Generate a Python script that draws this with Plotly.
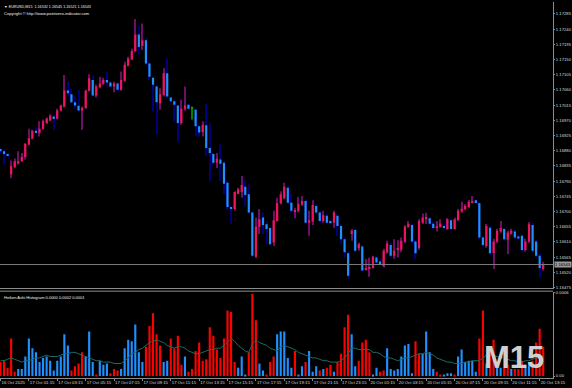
import plotly.graph_objects as go

opens = [1.16885,1.16878,1.16870,1.16810,1.16832,1.16842,1.16849,1.16861,1.16898,1.16916,
1.16939,1.16932,1.16945,1.16962,1.16969,1.16981,1.16975,1.16999,1.17011,1.17058,
1.17047,1.17023,1.17013,1.16999,1.17006,1.17057,1.17089,1.17043,1.17068,1.17078,
1.17089,1.17082,1.17070,1.17079,1.17060,1.17087,1.17132,1.17150,1.17175,1.17224,
1.17190,1.17207,1.17138,1.17096,1.17070,1.17020,1.17045,1.17109,1.17037,1.17026,
1.17014,1.16962,1.17004,1.17016,1.17006,1.17001,1.16952,1.16935,1.16955,1.16888,
1.16870,1.16844,1.16854,1.16844,1.16785,1.16713,1.16707,1.16752,1.16758,1.16773,
1.16751,1.16697,1.16566,1.16655,1.16682,1.16662,1.16651,1.16608,1.16672,1.16724,
1.16739,1.16770,1.16726,1.16700,1.16702,1.16721,1.16731,1.16667,1.16670,1.16716,
1.16697,1.16672,1.16687,1.16672,1.16667,1.16687,1.16657,1.16618,1.16576,1.16633,
1.16645,1.16591,1.16596,1.16527,1.16531,1.16533,1.16564,1.16552,1.16538,1.16579,
1.16601,1.16569,1.16586,1.16587,1.16611,1.16654,1.16660,1.16611,1.16592,1.16667,
1.16677,1.16680,1.16664,1.16652,1.16654,1.16657,1.16648,1.16674,1.16648,1.16675,
1.16700,1.16707,1.16713,1.16726,1.16733,1.16724,1.16623,1.16598,1.16652,1.16576,
1.16611,1.16641,1.16648,1.16616,1.16635,1.16641,1.16626,1.16628,1.16586,1.16611,
1.16660,1.16611,1.16569,1.16530]
highs = [1.16890,1.16883,1.16873,1.16851,1.16857,1.16878,1.16873,1.16903,1.16945,1.16942,
1.16947,1.16967,1.16972,1.16978,1.16988,1.16986,1.17004,1.17016,1.17104,1.17086,
1.17065,1.17040,1.17060,1.17011,1.17060,1.17106,1.17104,1.17075,1.17099,1.17096,
1.17114,1.17086,1.17084,1.17082,1.17114,1.17143,1.17158,1.17182,1.17270,1.17251,
1.17256,1.17212,1.17143,1.17099,1.17075,1.17065,1.17124,1.17153,1.17040,1.17031,
1.17016,1.17031,1.17070,1.17018,1.17011,1.17004,1.16955,1.16967,1.17018,1.16962,
1.16873,1.16873,1.16898,1.16849,1.16790,1.16716,1.16760,1.16770,1.16805,1.16795,
1.16780,1.16700,1.16682,1.16707,1.16697,1.16672,1.16654,1.16702,1.16741,1.16760,
1.16785,1.16775,1.16755,1.16711,1.16743,1.16746,1.16736,1.16702,1.16733,1.16721,
1.16702,1.16702,1.16692,1.16677,1.16702,1.16692,1.16662,1.16623,1.16581,1.16648,
1.16648,1.16608,1.16601,1.16559,1.16563,1.16569,1.16568,1.16557,1.16590,1.16613,
1.16607,1.16618,1.16615,1.16623,1.16660,1.16672,1.16663,1.16616,1.16678,1.16694,
1.16696,1.16684,1.16669,1.16672,1.16677,1.16663,1.16681,1.16678,1.16682,1.16707,
1.16729,1.16722,1.16734,1.16746,1.16735,1.16728,1.16628,1.16663,1.16657,1.16619,
1.16649,1.16672,1.16652,1.16643,1.16649,1.16646,1.16631,1.16631,1.16619,1.16669,
1.16666,1.16616,1.16575,1.16551]
lows = [1.16872,1.16839,1.16861,1.16798,1.16829,1.16839,1.16847,1.16854,1.16896,1.16913,
1.16932,1.16922,1.16942,1.16959,1.16967,1.16942,1.16972,1.16996,1.17008,1.17040,
1.17020,1.17004,1.16996,1.16942,1.17004,1.17055,1.17040,1.17037,1.17065,1.17075,
1.17070,1.17067,1.17053,1.17057,1.17057,1.17084,1.17129,1.17148,1.17171,1.17163,
1.17178,1.17134,1.17089,1.16996,1.16927,1.17001,1.17040,1.17037,1.17020,1.16967,
1.16908,1.16957,1.16998,1.17001,1.16972,1.16922,1.16922,1.16922,1.16864,1.16790,
1.16839,1.16829,1.16790,1.16751,1.16707,1.16662,1.16702,1.16751,1.16741,1.16716,
1.16692,1.16564,1.16562,1.16633,1.16633,1.16603,1.16601,1.16598,1.16670,1.16721,
1.16736,1.16723,1.16697,1.16680,1.16697,1.16716,1.16664,1.16628,1.16660,1.16692,
1.16667,1.16667,1.16664,1.16662,1.16652,1.16628,1.16603,1.16562,1.16501,1.16613,
1.16579,1.16584,1.16522,1.16525,1.16507,1.16531,1.16547,1.16540,1.16534,1.16575,
1.16563,1.16560,1.16564,1.16579,1.16607,1.16652,1.16607,1.16559,1.16587,1.16663,
1.16663,1.16660,1.16646,1.16641,1.16652,1.16649,1.16646,1.16646,1.16646,1.16672,
1.16696,1.16704,1.16710,1.16724,1.16725,1.16619,1.16596,1.16593,1.16572,1.16530,
1.16607,1.16637,1.16613,1.16574,1.16631,1.16619,1.16616,1.16581,1.16581,1.16607,
1.16578,1.16563,1.16504,1.16525]
closes = [1.16878,1.16870,1.16864,1.16834,1.16849,1.16849,1.16861,1.16900,1.16917,1.16939,
1.16935,1.16945,1.16967,1.16975,1.16984,1.16976,1.16999,1.17014,1.17058,1.17050,
1.17023,1.17014,1.16999,1.17006,1.17057,1.17094,1.17043,1.17070,1.17079,1.17089,
1.17082,1.17070,1.17079,1.17060,1.17089,1.17134,1.17153,1.17175,1.17224,1.17187,
1.17207,1.17138,1.17099,1.17075,1.17023,1.17047,1.17109,1.17040,1.17026,1.17016,
1.16962,1.17004,1.17014,1.17004,1.17006,1.16952,1.16934,1.16957,1.16888,1.16873,
1.16844,1.16856,1.16841,1.16782,1.16713,1.16707,1.16758,1.16765,1.16778,1.16749,
1.16697,1.16569,1.16655,1.16677,1.16660,1.16648,1.16603,1.16674,1.16724,1.16751,
1.16773,1.16726,1.16702,1.16704,1.16723,1.16731,1.16667,1.16674,1.16719,1.16697,
1.16672,1.16689,1.16667,1.16665,1.16697,1.16657,1.16618,1.16579,1.16510,1.16643,
1.16584,1.16603,1.16525,1.16532,1.16534,1.16566,1.16549,1.16543,1.16584,1.16605,
1.16569,1.16584,1.16591,1.16613,1.16655,1.16664,1.16611,1.16576,1.16672,1.16682,
1.16684,1.16664,1.16651,1.16657,1.16664,1.16652,1.16677,1.16648,1.16677,1.16702,
1.16708,1.16716,1.16729,1.16731,1.16728,1.16623,1.16601,1.16657,1.16576,1.16611,
1.16643,1.16651,1.16618,1.16638,1.16643,1.16623,1.16620,1.16586,1.16611,1.16662,
1.16584,1.16569,1.16533,1.16543]

hist_values = [0.00010,0.00011,0.00006,0.00027,0.00003,0.00005,0.00005,0.00014,0.00027,0.00020,
0.00017,0.00010,0.00013,0.00014,0.00011,0.00004,0.00011,0.00014,0.00030,0.00022,
0.00004,0.00007,0.00009,0.00017,0.00014,0.00032,0.00010,0.00001,0.00011,0.00008,
0.00009,0.00002,0.00005,0.00004,0.00005,0.00020,0.00026,0.00025,0.00037,0.00017,
0.00010,0.00021,0.00036,0.00045,0.00030,0.00022,0.00010,0.00011,0.00027,0.00020,
0.00029,0.00008,0.00014,0.00003,0.00005,0.00018,0.00024,0.00011,0.00012,0.00035,
0.00029,0.00019,0.00013,0.00027,0.00047,0.00046,0.00010,0.00006,0.00014,0.00001,
0.00017,0.00059,0.00040,0.00009,0.00004,0.00001,0.00010,0.00014,0.00030,0.00032,
0.00032,0.00013,0.00006,0.00018,0.00001,0.00007,0.00010,0.00018,0.00003,0.00007,
0.00004,0.00005,0.00006,0.00008,0.00003,0.00010,0.00016,0.00035,0.00044,0.00030,
0.00007,0.00011,0.00024,0.00026,0.00017,0.00001,0.00006,0.00003,0.00004,0.00020,
0.00005,0.00004,0.00005,0.00014,0.00022,0.00023,0.00002,0.00025,0.00016,0.00016,
0.00032,0.00017,0.00005,0.00003,0.00001,0.00001,0.00002,0.00002,0.00001,0.00014,
0.00019,0.00010,0.00011,0.00011,0.00003,0.00027,0.00047,0.00009,0.00021,0.00026,
0.00010,0.00006,0.00019,0.00008,0.00005,0.00005,0.00005,0.00011,0.00008,0.00010,
0.00011,0.00024,0.00034,0.00021]
hist_dir = ("RRRRRBBBBB" "BBBBBBBBBB" "RRRRBBBRBB" "BRRRBBBBBB" "BRRRRRBBRR"
            "RRBRRRRRRR" "RRRRRRRBBB" "RRRBBRRRBB" "BBBRBBRBBB" "RBRRBRRRRB"
            "BRRRRBBRRB" "BBBBBBBRRB" "BBBRRBBBRB" "BBBBBRRBRR" "BBRRBRRRBB"
            "RRRR")
signal = [0.00011,0.00011,0.00012,0.00013,0.00012,0.00011,0.00010,0.00011,0.00011,0.00012,
0.00013,0.00013,0.00014,0.00015,0.00014,0.00014,0.00014,0.00015,0.00016,0.00016,
0.00017,0.00017,0.00016,0.00015,0.00014,0.00013,0.00012,0.00011,0.00011,0.00010,
0.00010,0.00010,0.00009,0.00009,0.00009,0.00011,0.00013,0.00016,0.00017,0.00019,
0.00020,0.00022,0.00024,0.00025,0.00026,0.00025,0.00024,0.00022,0.00021,0.00020,
0.00021,0.00021,0.00020,0.00018,0.00017,0.00016,0.00016,0.00017,0.00018,0.00019,
0.00019,0.00020,0.00020,0.00022,0.00024,0.00027,0.00025,0.00022,0.00020,0.00018,
0.00017,0.00023,0.00026,0.00024,0.00023,0.00022,0.00020,0.00019,0.00018,0.00021,
0.00022,0.00021,0.00020,0.00019,0.00017,0.00016,0.00015,0.00014,0.00013,0.00013,
0.00012,0.00011,0.00011,0.00010,0.00010,0.00010,0.00011,0.00013,0.00016,0.00020,
0.00020,0.00019,0.00019,0.00019,0.00019,0.00017,0.00017,0.00016,0.00014,0.00013,
0.00013,0.00012,0.00011,0.00012,0.00013,0.00013,0.00014,0.00015,0.00016,0.00016,
0.00017,0.00016,0.00015,0.00013,0.00012,0.00011,0.00010,0.00010,0.00009,0.00009,
0.00009,0.00010,0.00010,0.00011,0.00011,0.00011,0.00013,0.00015,0.00015,0.00015,
0.00014,0.00013,0.00013,0.00012,0.00011,0.00011,0.00010,0.00010,0.00011,0.00011,
0.00012,0.00013,0.00013,0.00014]

tick_idx = [0, 8, 16, 24, 32, 40, 48, 56, 64, 72, 80, 88, 96, 104, 112, 120, 128, 136, 144, 152]
tick_labels = ["16 Oct 2025", "17 Oct 01:15", "17 Oct 03:15", "17 Oct 05:15", "17 Oct 07:15",
               "17 Oct 09:15", "17 Oct 11:15", "17 Oct 13:15", "17 Oct 15:15", "17 Oct 17:15",
               "17 Oct 19:15", "17 Oct 21:15", "17 Oct 23:15", "20 Oct 01:15", "20 Oct 03:15",
               "20 Oct 05:15", "20 Oct 07:15", "20 Oct 09:15", "20 Oct 11:15", "20 Oct 13:15"]
price_ticks = [1.17285, 1.17240, 1.17195, 1.17150, 1.17105, 1.17060, 1.17015, 1.16970, 1.16925,
               1.16880, 1.16835, 1.16790, 1.16745, 1.16700, 1.16655, 1.16610, 1.16565, 1.16520, 1.16475]
hist_ticks = [0.0, 0.0006]
hist_tick_labels = ["0.00", "0.0006"]
last_price = 1.16543
header = "\u25BC EURUSD,M15  1.16532 1.16545 1.16521 1.16543"
copyright_text = "Copyright \u00A9 http://www.pointzero-indicator.com"
hist_title = "Heiken Ashi Histogram 0.0000 0.0002 0.0001"
watermark = "M15"

n = len(opens)
xs = list(range(n))

UP_BODY, DN_BODY, DOJI_BODY = "#F0145E", "#1E90FF", "#00A000"
UP_WICK, DN_WICK, DOJI_WICK = "#6E0E66", "#00007A", "#008000"

body_col, wick_col, body_base, body_len = [], [], [], []
for o, c in zip(opens, closes):
    if c > o:
        body_col.append(UP_BODY); wick_col.append(UP_WICK)
    elif c < o:
        body_col.append(DN_BODY); wick_col.append(DN_WICK)
    else:
        body_col.append(DOJI_BODY); wick_col.append(DOJI_WICK)
    body_base.append(min(o, c))
    body_len.append(max(abs(c - o), 0.000012))

fig = go.Figure()
fig.add_trace(go.Bar(x=xs, y=[h - l for h, l in zip(highs, lows)], base=lows, width=0.3,
                     marker=dict(color=wick_col, line=dict(width=0)), xaxis="x", yaxis="y",
                     hoverinfo="skip"))
fig.add_trace(go.Bar(x=xs, y=body_len, base=body_base, width=0.62,
                     marker=dict(color=body_col, line=dict(width=0)), xaxis="x", yaxis="y",
                     hoverinfo="skip"))
hist_col = ["#FF0000" if d == "R" else "#1E90FF" for d in hist_dir]
fig.add_trace(go.Bar(x=xs, y=hist_values, width=0.6,
                     marker=dict(color=hist_col, line=dict(width=0)), xaxis="x", yaxis="y2",
                     hoverinfo="skip"))
fig.add_trace(go.Scatter(x=xs, y=signal, mode="lines", line=dict(color="#1F6A64", width=1),
                         xaxis="x", yaxis="y2", hoverinfo="skip"))

AX = "#8C8C8C"
TXT = "#DCDCDC"
FONT = "Liberation Sans, Arial, sans-serif"

fig.update_layout(
    width=572, height=388,
    paper_bgcolor="black", plot_bgcolor="black",
    margin=dict(l=0, r=17, t=0, b=10),
    showlegend=False, barmode="overlay",
    font=dict(family=FONT, color=TXT, size=4.5),
    xaxis=dict(range=[-0.14, 155.76], domain=[0, 1], anchor="y2",
               tickvals=tick_idx, ticktext=tick_labels, ticks="outside", ticklen=2,
               tickcolor=AX, showline=True, linecolor=AX, linewidth=1, tickangle=0,
               ticklabelposition="outside right", tickfont=dict(size=4.3, color=TXT),
               showgrid=False, zeroline=False, fixedrange=True),
    yaxis=dict(domain=[0.238, 1], range=[1.16472, 1.17320], side="right", anchor="x",
               tickvals=price_ticks, ticktext=["%.5f" % v for v in price_ticks],
               ticks="outside", ticklen=1, tickcolor=AX, showline=True, linecolor=AX,
               tickfont=dict(size=4.2, color=TXT), showgrid=False, zeroline=False),
    yaxis2=dict(domain=[0, 0.230], range=[-0.0000143, 0.000607], side="right", anchor="x",
                tickvals=hist_ticks, ticktext=hist_tick_labels,
                ticks="outside", ticklen=1, tickcolor=AX, showline=True, linecolor=AX,
                tickfont=dict(size=4.2, color=TXT), showgrid=False, zeroline=False),
)

fig.add_shape(type="line", xref="paper", yref="paper", x0=0, x1=1, y0=0.238, y1=0.238,
              line=dict(color=AX, width=1))
fig.add_shape(type="line", xref="paper", yref="paper", x0=0, x1=1, y0=0.231, y1=0.231,
              line=dict(color=AX, width=1))
fig.add_shape(type="line", xref="paper", yref="y", x0=0, x1=1, y0=last_price, y1=last_price,
              line=dict(color="#7A7A7A", width=1))

fig.add_annotation(text=header, xref="paper", yref="paper", x=0.004, y=0.998,
                   xanchor="left", yanchor="top", showarrow=False,
                   font=dict(size=3.7, color="#F0F0F0", family=FONT))
fig.add_annotation(text=copyright_text, xref="paper", yref="paper", x=0.004, y=0.982,
                   xanchor="left", yanchor="top", showarrow=False,
                   font=dict(size=4.1, color="#F0F0F0", family=FONT))
fig.add_annotation(text=hist_title, xref="paper", yref="paper", x=0.003, y=0.226,
                   xanchor="left", yanchor="top", showarrow=False,
                   font=dict(size=4.0, color="#F0F0F0", family=FONT))
fig.add_annotation(text="%.5f" % last_price, xref="paper", yref="y", x=1.002, y=last_price,
                   xanchor="left", yanchor="middle", showarrow=False,
                   bgcolor="#9A9A9A", borderpad=0,
                   font=dict(size=4.2, color="#000000", family=FONT))
fig.add_annotation(text="<b>%s</b>" % watermark, xref="paper", yref="paper", x=0.93, y=0.055,
                   xanchor="center", yanchor="middle", showarrow=False,
                   font=dict(size=31, color="#CFCFCF", family=FONT))

fig.write_html("out.html", config={"displayModeBar": False},
               post_script="document.body.style.margin='0';document.body.style.padding='0';"
                           "document.body.style.background='black';")
